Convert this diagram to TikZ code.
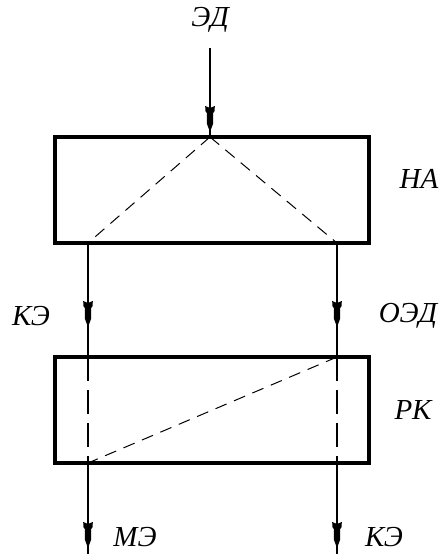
\documentclass[tikz,border=0pt]{standalone}
\usepackage{fontspec}
\setmainfont{Liberation Serif}
\newfontfamily\lblfont{Liberation Serif Italic}
\usetikzlibrary{decorations.markings}
\tikzset{
  box/.style={draw, line width=3.2pt, minimum width=314pt, minimum height=106pt, inner sep=0pt},
  flow/.style={line width=1.1pt},
  dashline/.style={line width=1pt, dash pattern=on 12pt off 8pt},
  vdash/.style={line width=1.1pt, dash pattern=on 24pt off 9pt},
  lbl/.style={font=\fontsize{29}{29}\selectfont\itshape, inner sep=0pt},
  dart/.style={postaction={decorate, decoration={markings, mark=at position #1 with {
     \fill (0,0) -- (-8pt,3pt) -- (-19pt,3.2pt) -- (-21pt,4.6pt) -- (-26pt,4.8pt) -- (-24pt,0pt) -- (-26pt,-4.8pt) -- (-21pt,-4.6pt) -- (-19pt,-3.2pt) -- (-8pt,-3pt) -- cycle;}}}}
}
\begin{document}
\begin{tikzpicture}[x=1pt,y=-1pt]
\useasboundingbox (0,0) rectangle (443,555);
% boxes
\node[box] (na) at (212,190) {};
\node[box] (rk) at (212,410) {};
% coordinates
\coordinate (top) at (210,48);
\coordinate (naT) at (210,137);
\coordinate (naL) at (88,243);
\coordinate (naR) at (337,243);
\coordinate (rkTL) at (88,357);
\coordinate (rkTR) at (337,357);
\coordinate (rkBL) at (88,463);
\coordinate (rkBR) at (337,463);
\coordinate (endL) at (88,554);
\coordinate (endR) at (337,554);
% labels
\node[lbl] (ed) at (210,20) {ЭД};
\node[lbl] (ha) at (419,179) {НА};
\node[lbl] (ke1) at (31,316) {КЭ};
\node[lbl] (oed) at (408,316) {ОЭД};
\node[lbl] (pk) at (413,410) {РК};
\node[lbl] (me) at (135,537) {МЭ};
\node[lbl] (ke2) at (384,537) {КЭ};
% connectors
\draw[flow, dart=84pt] (top) -- (naT);
\draw[flow, dart=84pt] (naL) -- (rkTL);
\draw[flow, dart=84pt] (naR) -- (rkTR);
\draw[flow, dart=85pt] (rkBL) -- (endL);
\draw[flow, dart=85pt] (rkBR) -- (endR);
% internal dashed lines
\draw[dashline] (naT) -- (naL);
\draw[dashline] (naT) -- (naR);
\draw[dashline] (rkTR) -- (rkBL);
\draw[vdash] (rkTL) -- (rkBL);
\draw[vdash] (rkTR) -- (rkBR);
\end{tikzpicture}
\end{document}
